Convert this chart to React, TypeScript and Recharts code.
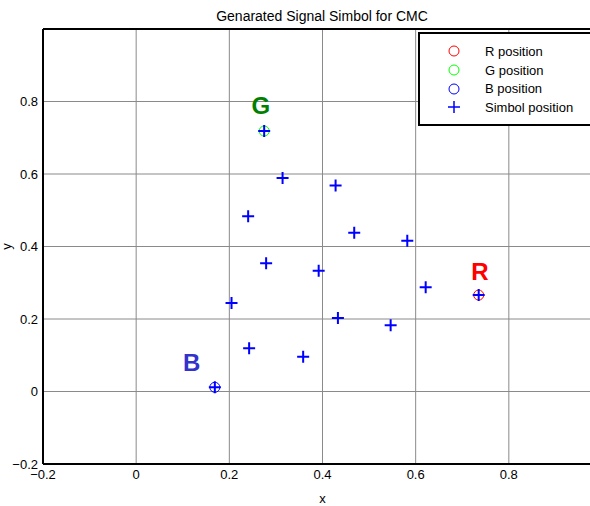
import React from "react";
import {
  ScatterChart,
  Scatter,
  XAxis,
  YAxis,
  CartesianGrid,
  ReferenceLine,
  Label,
} from "recharts";

// axis ticks
const X_TICKS = [-0.2, 0, 0.2, 0.4, 0.6, 0.8];
const Y_TICKS = [-0.2, 0, 0.2, 0.4, 0.6, 0.8];

// reference positions
const R_POS = { x: 0.7353, y: 0.266 };
const G_POS = { x: 0.2748, y: 0.7186 };
const B_POS = { x: 0.1689, y: 0.0116 };

// symbol positions
const SYMBOL_X = [
  0.2748, 0.3143, 0.4281, 0.2404, 0.4681, 0.582, 0.279, 0.3918,
  0.2047, 0.6215, 0.7353, 0.4331, 0.5463, 0.2425, 0.3585, 0.1689,
];
const SYMBOL_Y = [
  0.7186, 0.589, 0.568, 0.4836, 0.438, 0.416, 0.3537, 0.333,
  0.244, 0.2874, 0.266, 0.2028, 0.1826, 0.119, 0.096, 0.0116,
];

// big letters near the reference points
const LETTERS = ["R", "G", "B"];
const LETTER_X = [0.738, 0.2677, 0.1194];
const LETTER_Y = [0.3324, 0.7876, 0.08];
const LETTER_COLORS = ["#ff0000", "#008000", "#3333cc"];

const LEGEND_ITEMS = [
  { name: "R position", kind: "circle", color: "#ff0000" },
  { name: "G position", kind: "circle", color: "#00ff00" },
  { name: "B position", kind: "circle", color: "#0000ff" },
  { name: "Simbol position", kind: "cross", color: "#0000ff" },
];

const FONT = "'Liberation Sans', Arial, sans-serif";

const symbols = SYMBOL_X.map((x, i) => ({ x, y: SYMBOL_Y[i] }));
const letters = LETTERS.map((t, i) => ({
  x: LETTER_X[i],
  y: LETTER_Y[i],
  text: t,
  color: LETTER_COLORS[i],
}));

const fmt = (v: number) => String(v).replace("-", "\u2212");

const ring = (color: string) => (props: any) => (
  <circle cx={props.cx} cy={props.cy} r={5} fill="none" stroke={color} strokeWidth={1} />
);

const CrossShape = (props: any) => {
  const { cx, cy } = props;
  return (
    <path
      d={`M${cx - 6},${cy}H${cx + 6}M${cx},${cy - 6}V${cy + 6}`}
      stroke="#0000ff"
      strokeWidth={2}
      fill="none"
    />
  );
};

const LetterShape = (props: any) => (
  <text
    x={props.cx}
    y={props.cy}
    textAnchor="middle"
    dominantBaseline="central"
    fontFamily={FONT}
    fontWeight="bold"
    fontSize={24}
    fill={props.payload.color}
  >
    {props.payload.text}
  </text>
);

// rotated y label at the far left, like the original
const YLabel = (props: any) => {
  const vb = props.viewBox || {};
  const cx = 6;
  const cy = (vb.y ?? 0) + (vb.height ?? 0) / 2;
  return (
    <text
      x={cx}
      y={cy}
      transform={`rotate(-90, ${cx}, ${cy})`}
      textAnchor="middle"
      dominantBaseline="central"
      fontFamily={FONT}
      fontSize={13}
      fill="#000"
    >
      y
    </text>
  );
};

function LegendBox() {
  return (
    <div
      style={{
        position: "absolute",
        left: 418,
        top: 32,
        width: 200,
        height: 82,
        border: "2px solid #000",
        background: "#fff",
        paddingTop: 8,
        boxSizing: "content-box",
        fontFamily: FONT,
        fontSize: 13,
        color: "#000",
        zIndex: 2,
      }}
    >
      {LEGEND_ITEMS.map((item) => (
        <div key={item.name} style={{ height: 18.7, display: "flex", alignItems: "center" }}>
          <svg width={62} height={16} style={{ flex: "none" }}>
            {item.kind === "circle" ? (
              <circle cx={34} cy={8} r={5} fill="none" stroke={item.color} strokeWidth={1} />
            ) : (
              <path d="M28,8H40M34,2V14" stroke={item.color} strokeWidth={1.5} />
            )}
          </svg>
          <span style={{ marginLeft: 3 }}>{item.name}</span>
        </div>
      ))}
    </div>
  );
}

export default function App() {
  return (
    <div
      style={{
        position: "absolute",
        left: 0,
        top: 0,
        width: 590,
        height: 506,
        overflow: "hidden",
        background: "#fff",
      }}
    >
      <div
        style={{
          position: "absolute",
          left: 322,
          top: 8,
          transform: "translateX(-50%)",
          whiteSpace: "nowrap",
          fontFamily: FONT,
          fontSize: 14,
          lineHeight: "17px",
          zIndex: 2,
        }}
      >
        Genarated Signal Simbol for CMC
      </div>
      <ScatterChart width={620} height={506} margin={{ top: 29, right: 18, bottom: 0, left: 0 }}>
        <CartesianGrid stroke="#8a8a8a" strokeWidth={1} />
        <XAxis
          type="number"
          dataKey="x"
          domain={[-0.2, 1.0]}
          ticks={X_TICKS}
          allowDataOverflow
          height={42}
          tickLine={false}
          tickSize={4}
          tickMargin={2}
          tickFormatter={fmt}
          axisLine={{ stroke: "#000", strokeWidth: 2 }}
          tick={{ fill: "#000", fontSize: 13, fontFamily: FONT }}
        >
          <Label value="x" position="insideBottom" offset={3} fill="#000" fontSize={13} fontFamily={FONT} />
        </XAxis>
        <YAxis
          type="number"
          dataKey="y"
          domain={[-0.2, 1.0]}
          ticks={Y_TICKS}
          allowDataOverflow
          width={43}
          tickLine={false}
          tickSize={4}
          tickMargin={1}
          tickFormatter={fmt}
          axisLine={{ stroke: "#000", strokeWidth: 2 }}
          tick={{ fill: "#000", fontSize: 13, fontFamily: FONT }}
        >
          <Label content={YLabel} />
        </YAxis>
        <ReferenceLine y={1.0} stroke="#000" strokeWidth={2} />
        <Scatter name="R position" data={[R_POS]} shape={ring("#ff0000")} isAnimationActive={false} />
        <Scatter name="G position" data={[G_POS]} shape={ring("#00ff00")} isAnimationActive={false} />
        <Scatter name="B position" data={[B_POS]} shape={ring("#0000ff")} isAnimationActive={false} />
        <Scatter name="Simbol position" data={symbols} shape={CrossShape} isAnimationActive={false} />
        <Scatter name="labels" data={letters} shape={LetterShape} isAnimationActive={false} />
      </ScatterChart>
      <LegendBox />
    </div>
  );
}
